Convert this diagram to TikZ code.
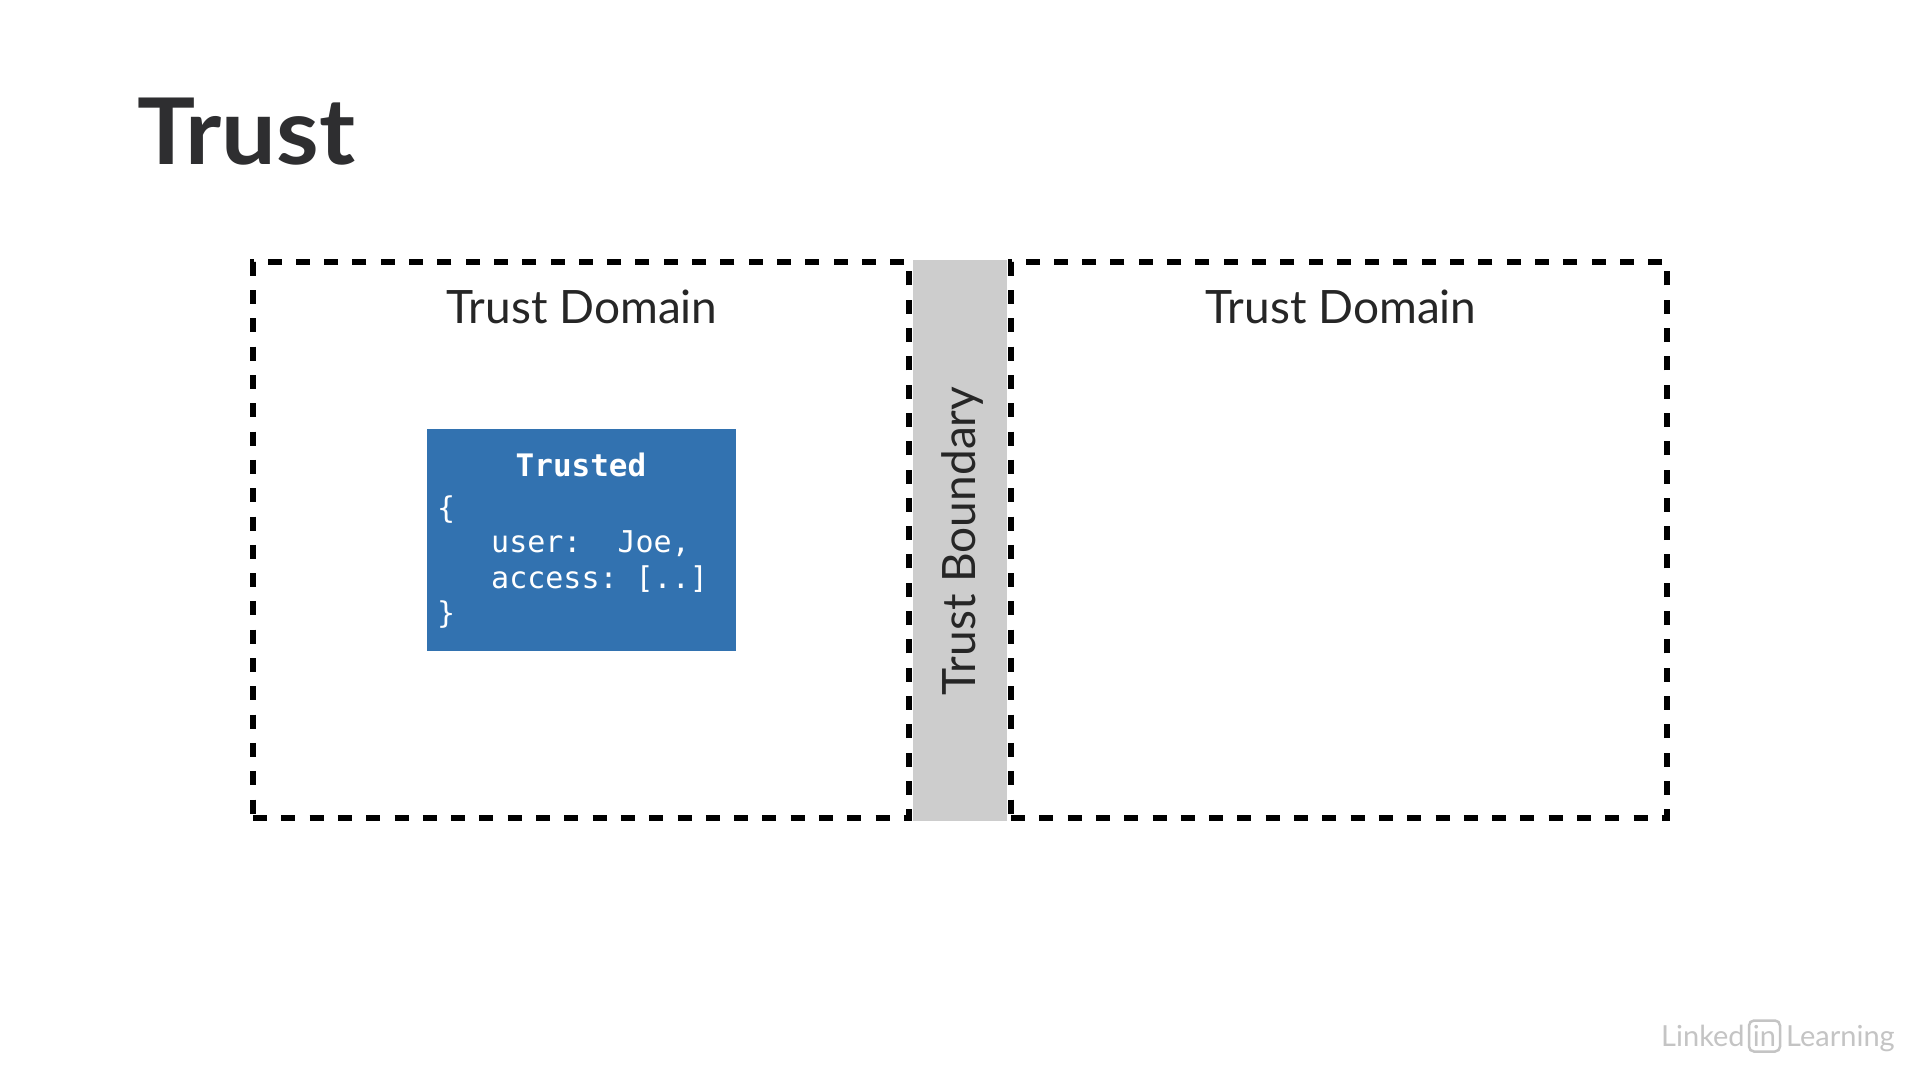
\documentclass[tikz,border=0pt]{standalone}
\usepackage{fontspec}
\setmainfont{Lato}
\setmonofont{DejaVu Sans Mono}
\usetikzlibrary{positioning}
\definecolor{titlegray}{HTML}{2E2E30}
\definecolor{tokenblue}{HTML}{3272B0}
\definecolor{bandgray}{HTML}{CDCDCD}
\definecolor{logogray}{HTML}{C4C4C4}
\tikzset{
  domainbox/.style={draw=black, line width=5.5pt, dash pattern=on 14pt off 14.3pt, minimum height=556pt, inner sep=0pt},
  domainlabel/.style={font=\fontsize{46}{46}\selectfont, text=black!85},
  codeline/.style={font=\fontsize{30}{36}\selectfont\ttfamily, text=white, inner sep=0pt, anchor=base west},
  logotext/.style={font=\fontsize{29}{29}\selectfont, text=logogray, inner sep=0pt, anchor=base west}
}
\begin{document}
\begin{tikzpicture}[x=1pt,y=-1pt]
  \useasboundingbox[fill=white] (0,0) rectangle (1920,1080);
  \node[font=\fontsize{92}{92}\selectfont\bfseries, text=titlegray, inner sep=0pt, anchor=base west, xscale=1.055] (title) at (137,164) {Trust};
  \node[domainbox, minimum width=656pt] (left) at (581,540) {};
  \node[domainbox, minimum width=656pt] (right) at (1339,540) {};
  \node[fill=bandgray, minimum width=94pt, minimum height=561pt, inner sep=0pt] (band) at (960,540.5) {};
  \node[domainlabel] (leftlabel) at (582,307) {Trust Domain};
  \node[domainlabel] (rightlabel) at (1341,307) {Trust Domain};
  \node[rotate=90, font=\fontsize{46}{46}\selectfont, text=black!85, inner sep=0pt] (bandlabel) at (962,541) {Trust Boundary};
  \node[fill=tokenblue, minimum width=309pt, minimum height=222pt, inner sep=0pt] (token) at (581.5,540) {};
  \node[codeline, anchor=base, font=\fontsize{31}{36}\selectfont\ttfamily\bfseries] (head) at (581,476) {Trusted};
  \node[codeline] (open) at (437,518) {\{};
  \node[codeline] (user) at (491,552) {user:~~Joe,};
  \node[codeline] (access) at (491,588) {access:~[..]};
  \node[codeline] (close) at (437,623) {\}};
  \node[logotext] (linked) at (1661,1046) {Linked};
  \node[draw=logogray, line width=2.5pt, rounded corners=5pt, inner sep=0pt, minimum size=31pt, text=logogray, font=\fontsize{29}{29}\selectfont] (in) at (1764.5,1036) {in};
  \node[logotext] (learning) at (1786,1046) {Learning};
\end{tikzpicture}
\end{document}
